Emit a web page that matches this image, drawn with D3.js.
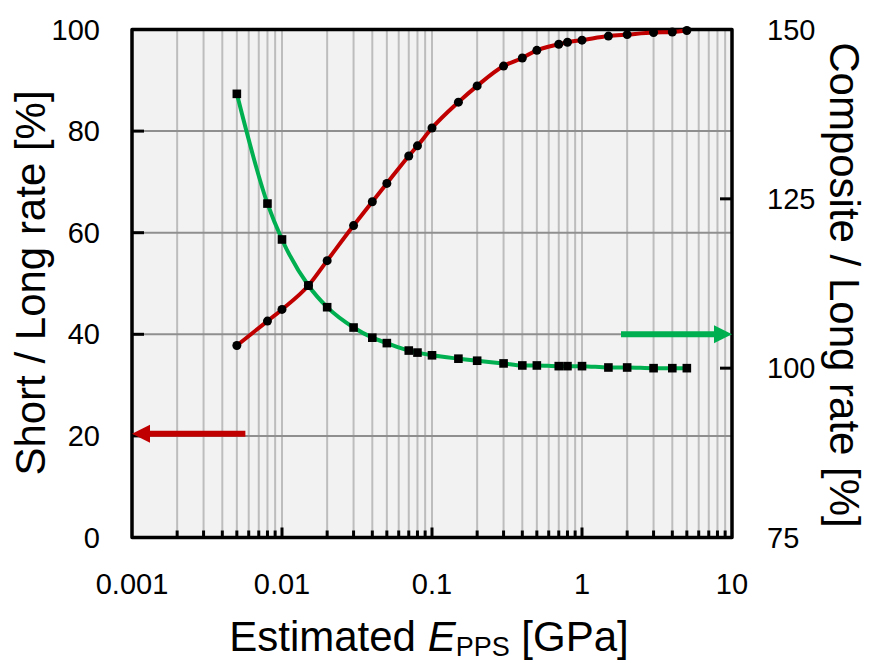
<!DOCTYPE html>
<html>
<head>
<meta charset="utf-8">
<script src="https://cdn.jsdelivr.net/npm/d3@7"></script>
<style>
  html, body { margin: 0; padding: 0; background: #ffffff; }
  svg { display: block; font-family: "Liberation Sans", Arial, sans-serif; }
</style>
</head>
<body>
<svg id="chart" width="871" height="663"></svg>
<script>
// Estimated modulus of the PPS layer [GPa]
const modulus = [0.005, 0.008, 0.01, 0.015, 0.02, 0.03, 0.04, 0.05, 0.07, 0.08, 0.1,
                 0.15, 0.2, 0.3, 0.4, 0.5, 0.7, 0.8, 1, 1.5, 2, 3, 4, 5];
// Short / Long rate [%] (left axis)
const shortLong = [37.8, 42.6, 44.9, 49.6, 54.5, 61.4, 66.1, 69.7, 75.1, 77.1, 80.6,
                   85.7, 88.9, 92.8, 94.4, 95.9, 97.1, 97.5, 97.9, 98.7, 99.0, 99.4, 99.5, 99.8];
// Composite / Long rate [%] (right axis)
const compositeLong = [140.5, 124.3, 119.0, 112.2, 109.0, 106.0, 104.5, 103.7, 102.6, 102.3, 101.9,
                       101.4, 101.1, 100.7, 100.4, 100.4, 100.3, 100.3, 100.3, 100.1, 100.1, 100.0, 100.0, 100.0];

const xTicks = [0.001, 0.01, 0.1, 1, 10];
const xTickLabels = ["0.001", "0.01", "0.1", "1", "10"];
const leftTicks = [0, 20, 40, 60, 80, 100];
const rightTicks = [75, 100, 125, 150];

const svg = d3.select("#chart");
const plot = { left: 132, right: 732, top: 29.5, bottom: 537.5 };

const x = d3.scaleLog().domain([0.001, 10]).range([plot.left, plot.right]);
const yL = d3.scaleLinear().domain([0, 100]).range([plot.bottom, plot.top]);
const yR = d3.scaleLinear().domain([75, 150]).range([plot.bottom, plot.top]);

// plot background
svg.append("rect")
  .attr("x", plot.left).attr("y", plot.top)
  .attr("width", plot.right - plot.left).attr("height", plot.bottom - plot.top)
  .attr("fill", "#f2f2f2");

// minor vertical gridlines (every 1..9 of each decade)
const minorX = [];
for (let d = -3; d < 1; d++) {
  for (let m = 1; m <= 9; m++) {
    const v = m * Math.pow(10, d);
    if (v > 0.001 && v < 10) minorX.push(+v.toPrecision(3));
  }
}
svg.append("g").selectAll("line").data(minorX).join("line")
  .attr("x1", d => x(d)).attr("x2", d => x(d))
  .attr("y1", plot.top).attr("y2", plot.bottom)
  .attr("stroke", "#bdbdbd").attr("stroke-width", 2);

// horizontal gridlines
svg.append("g").selectAll("line").data([20, 40, 60, 80]).join("line")
  .attr("x1", plot.left).attr("x2", plot.right)
  .attr("y1", d => yL(d)).attr("y2", d => yL(d))
  .attr("stroke", "#8f8f8f").attr("stroke-width", 2);

// inward tick marks on the bottom axis
svg.append("g").selectAll("line").data(minorX).join("line")
  .attr("x1", d => x(d)).attr("x2", d => x(d))
  .attr("y1", plot.bottom)
  .attr("y2", d => plot.bottom - (xTicks.includes(d) ? 10 : 7))
  .attr("stroke", "#000").attr("stroke-width", 3);

// inward tick marks on left and right axes
svg.append("g").selectAll("line").data(leftTicks.slice(1, -1)).join("line")
  .attr("x1", plot.left).attr("x2", plot.left + 12)
  .attr("y1", d => yL(d)).attr("y2", d => yL(d))
  .attr("stroke", "#000").attr("stroke-width", 3);
svg.append("g").selectAll("line").data(rightTicks.slice(1, -1)).join("line")
  .attr("x1", plot.right).attr("x2", plot.right - 12)
  .attr("y1", d => yR(d)).attr("y2", d => yR(d))
  .attr("stroke", "#000").attr("stroke-width", 3);

// frame
svg.append("rect")
  .attr("x", plot.left).attr("y", plot.top)
  .attr("width", plot.right - plot.left).attr("height", plot.bottom - plot.top)
  .attr("fill", "none").attr("stroke", "#000").attr("stroke-width", 3.5)
  .attr("stroke-linejoin", "round");

// axis arrows: red points to the left axis, green to the right axis
function arrow(x0, x1, y, color) {
  const dir = Math.sign(x1 - x0);
  const headLen = 18, headHalf = 9, shaft = 6;
  svg.append("line")
    .attr("x1", x0).attr("x2", x1 - dir * headLen + dir * 1)
    .attr("y1", y).attr("y2", y)
    .attr("stroke", color).attr("stroke-width", shaft);
  svg.append("path")
    .attr("d", `M${x1},${y} L${x1 - dir * headLen},${y - headHalf} L${x1 - dir * headLen},${y + headHalf} Z`)
    .attr("fill", color);
}
arrow(x(0.0057), x(0.001), yL(20.4), "#c00000");
arrow(x(1.82), x(10), yR(105), "#00b050");

const data = modulus.map((m, i) => ({ m, s: shortLong[i], c: compositeLong[i] }));

// curves
svg.append("path").datum(data)
  .attr("fill", "none").attr("stroke", "#c00000").attr("stroke-width", 4)
  .attr("d", d3.line().x(d => x(d.m)).y(d => yL(d.s)).curve(d3.curveMonotoneX));
svg.append("path").datum(data)
  .attr("fill", "none").attr("stroke", "#00b050").attr("stroke-width", 4)
  .attr("d", d3.line().x(d => x(d.m)).y(d => yR(d.c)).curve(d3.curveMonotoneX));

// markers
svg.append("g").selectAll("circle").data(data).join("circle")
  .attr("cx", d => x(d.m)).attr("cy", d => yL(d.s)).attr("r", 4.5)
  .attr("fill", "#000");
svg.append("g").selectAll("rect").data(data).join("rect")
  .attr("x", d => x(d.m) - 4.3).attr("y", d => yR(d.c) - 4.3)
  .attr("width", 8.6).attr("height", 8.6)
  .attr("fill", "#000");

// tick labels
svg.append("g").selectAll("text").data(xTicks).join("text")
  .attr("x", d => x(d)).attr("y", 594)
  .attr("text-anchor", "middle").attr("font-size", 29).attr("fill", "#000")
  .text((d, i) => xTickLabels[i]);
svg.append("g").selectAll("text").data(leftTicks).join("text")
  .attr("x", 100).attr("y", d => yL(d) + 10)
  .attr("text-anchor", "end").attr("font-size", 29).attr("fill", "#000")
  .text(d => d);
svg.append("g").selectAll("text").data(rightTicks).join("text")
  .attr("x", 767).attr("y", d => yR(d) + 10)
  .attr("text-anchor", "start").attr("font-size", 29).attr("fill", "#000")
  .text(d => d);

// axis titles
const xt = svg.append("text")
  .attr("x", 429).attr("y", 651)
  .attr("text-anchor", "middle").attr("font-size", 42).attr("fill", "#000");
xt.append("tspan").text("Estimated ");
xt.append("tspan").attr("font-style", "italic").text("E");
xt.append("tspan").attr("font-size", 27).attr("dy", 5).text("PPS");
xt.append("tspan").attr("dy", -5).text(" [GPa]");

svg.append("text")
  .attr("transform", "translate(45,283) rotate(-90)")
  .attr("text-anchor", "middle").attr("font-size", 42).attr("fill", "#000")
  .text("Short / Long rate [%]");
svg.append("text")
  .attr("transform", "translate(830,285) rotate(90)")
  .attr("text-anchor", "middle").attr("font-size", 42).attr("fill", "#000")
  .text("Composite / Long rate [%]");
</script>
</body>
</html>
